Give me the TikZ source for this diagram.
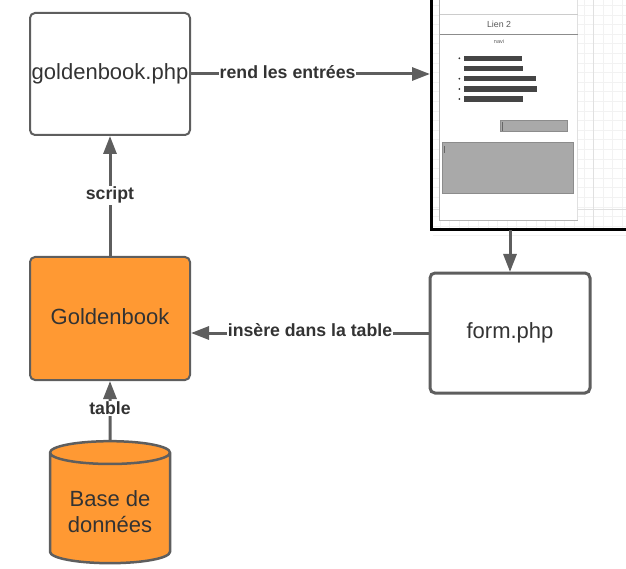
\documentclass[tikz,border=0pt]{standalone}
\usepackage{fontspec}
\setmainfont{Liberation Sans}
\usetikzlibrary{arrows.meta,shapes.geometric}
\definecolor{trait}{HTML}{5E5E5E}
\definecolor{texte}{HTML}{333333}
\definecolor{orange}{HTML}{FF9933}
\definecolor{champ}{HTML}{A9A9A9}
\tikzset{
  auto,
  boite/.style={draw=trait, rounded corners=5pt, inner sep=0pt, outer sep=0pt, minimum width=160pt, text depth=4.7pt, text=texte, font=\fontsize{22}{26}\selectfont},
  lien/.style={fill=white, inner sep=1pt, text=texte, font=\fontsize{17.7}{20}\selectfont\bfseries},
  fleche/.style={draw=trait, line width=3pt, shorten >=1pt, -{Triangle[length=18pt,width=13pt]}},
  barre/.style={fill=black!73}
}

\begin{document}
\begin{tikzpicture}[x=1pt,y=-1pt]
\clip (0,0) rectangle (626,569);
\node (goldenbook) [boite, fill=orange, line width=2pt, minimum height=123pt] at (110,318.5) {Goldenbook};
\node (phpgolden) [boite, line width=2pt, minimum height=122pt, above of=goldenbook, node distance=244.5pt] {goldenbook.php};
\node (phpform) [boite, line width=3pt, minimum height=120pt] at (510,333) {form.php};
\node (base) [cylinder, shape border rotate=90, aspect=0.27, draw=trait, fill=orange, line width=2.5pt, inner sep=0pt, outer sep=0pt, minimum width=120pt, minimum height=122pt, align=center, text=texte, font=\fontsize{22}{26}\selectfont, below of=goldenbook, node distance=190pt] {\rule{0pt}{23pt}Base de\\données};
\node (maquette) [draw=black, line width=3pt, outer sep=0pt, fill=white, minimum width=240pt, minimum height=270pt, anchor=south west] at (431,230) {};

\foreach \i in {0,...,24} {
  \draw[black!5, line width=1pt] (433,{5.5+9.6*\i}) -- (626,{5.5+9.6*\i});
}
\foreach \i in {0,...,19} {
  \draw[black!5, line width=1pt] ({440+9.6*\i},0) -- ({440+9.6*\i},228.5);
}
\draw[black!12, line width=1pt] (433,210) -- (626,210);
\draw[black!12, line width=1pt] (593,0) -- (593,228.5);

\draw[black!30, fill=white] (439.5,-5) rectangle (577,220);
\draw[black!12, line width=1.5pt] (577.5,-5) -- (577.5,220);
\draw[black!20, line width=1pt] (440,15) -- (578,15);
\draw[black!45, line width=1pt] (440,34.5) -- (578,34.5);
\node (lien) [text=black!65, font=\fontsize{8.8}{10}\selectfont] at (499,24) {Lien 2};
\node (navi) [text=black!65, font=\fontsize{5.5}{6}\selectfont] at (499,42) {navi};
\foreach \y/\fin in {58.3/522,68.7/523,78.7/536,89/536.7,99/523.3} {
  \fill[barre] (464,\y-2.7) rectangle (\fin,\y+2.7);
}
\foreach \y in {58.3,78.7,89,99} {
  \fill[black!80] (459.3,\y) circle (1pt);
}
\draw[black!45, fill=champ] (500,120.5) rectangle (566.7,131.5);
\draw[black!60, line width=1.5pt] (502.7,122) -- (502.7,131);
\draw[black!45, fill=champ] (442,142.5) rectangle (573.3,193.5);
\draw[black!60, line width=1pt] (444.3,146) -- (444.3,153);

\draw[fleche] (phpgolden.east) to node[lien, pos=0.405, anchor=center, yshift=1.5pt] {rend les entrées} (phpgolden.east -| maquette.west);
\draw[fleche] (goldenbook.north) to node[lien, pos=0.505, anchor=center] {script} (phpgolden.south);
\draw[fleche] (phpform.north |- maquette.south) to (phpform.north);
\draw[fleche] (phpform.west) to node[lien, pos=0.5, anchor=center, yshift=2.5pt] {insère dans la table} (phpform.west -| goldenbook.east);
\draw[fleche] (base.north) to node[lien, pos=0.54, anchor=center] {table} (goldenbook.south);
\end{tikzpicture}
\end{document}
